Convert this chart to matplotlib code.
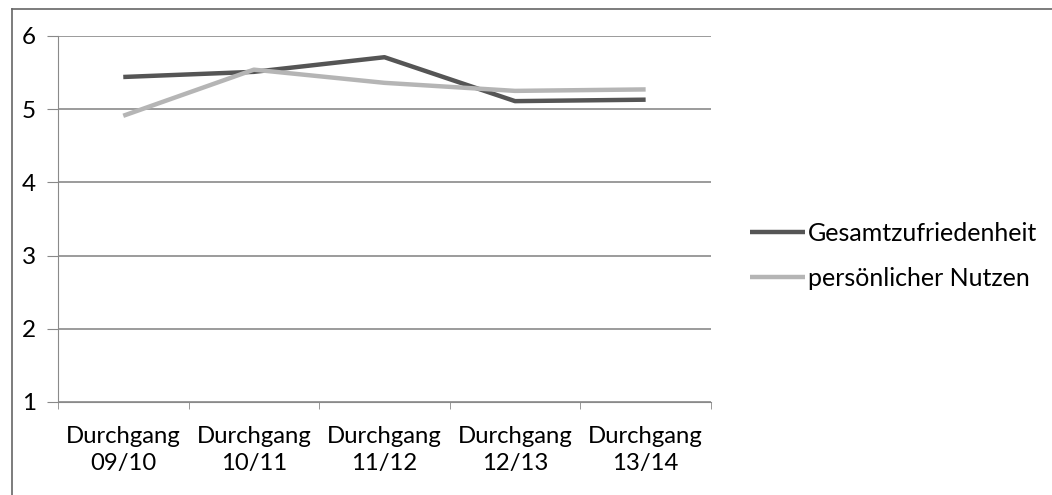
import matplotlib
matplotlib.use('Agg')
from matplotlib import pyplot as plt
from matplotlib.lines import Line2D

# categories and values
durchgaenge = ['Durchgang\n09/10', 'Durchgang\n10/11', 'Durchgang\n11/12', 'Durchgang\n12/13', 'Durchgang\n13/14']
gesamtzufriedenheit = [5.44, 5.51, 5.71, 5.11, 5.13]
persoenlicher_nutzen = [4.91, 5.54, 5.36, 5.25, 5.27]
y_ticks = [1, 2, 3, 4, 5, 6]

plt.rcParams['font.family'] = ['Lato', 'DejaVu Sans']

fig = plt.figure(figsize=(10.52, 4.95), dpi=100)
ax = fig.add_axes([0.0551, 0.1879, 0.6207, 0.7394])

x = list(range(len(durchgaenge)))
ax.plot(x, gesamtzufriedenheit, color='#555555', lw=3.2, solid_capstyle='butt', label='Gesamtzufriedenheit', zorder=3)
ax.plot(x, persoenlicher_nutzen, color='#b5b5b5', lw=3.2, solid_capstyle='butt', label='persönlicher Nutzen', zorder=3)

ax.set_xlim(-0.5, len(durchgaenge) - 0.5)
ax.set_ylim(1, 6)
ax.set_yticks(y_ticks)
ax.set_yticklabels([str(v) for v in y_ticks], fontsize=17.5)
ax.set_xticks(x)
ax.set_xticklabels(durchgaenge, fontsize=17.2, linespacing=1.4)
ax.tick_params(axis='x', length=0, pad=17)
ax.set_xticks([i - 0.5 for i in range(len(durchgaenge) + 1)], minor=True)
ax.tick_params(axis='x', which='minor', length=5, color='#888888', direction='out')
ax.tick_params(axis='y', length=8, color='#888888', pad=8)

ax.grid(axis='y', color='#808080', lw=1.1)
ax.set_axisbelow(True)
for s in ['top', 'right']:
    ax.spines[s].set_visible(False)
ax.spines['left'].set_color('#8a8a8a')
ax.spines['bottom'].set_color('#8a8a8a')

ax.legend(loc='center left', bbox_to_anchor=(1.06, 0.40), frameon=False, fontsize=18,
          borderpad=0, borderaxespad=0,
          handlelength=2.2, handletextpad=0.12, labelspacing=0.88)

# outer chart frame (top and left edges visible in the scan)
fig.add_artist(Line2D([0.0114, 1.0], [0.982, 0.982], color='#666666', lw=1.2))
fig.add_artist(Line2D([0.0114, 0.0114], [0.0, 0.982], color='#666666', lw=1.2))

fig.savefig('out.png', dpi=100)
